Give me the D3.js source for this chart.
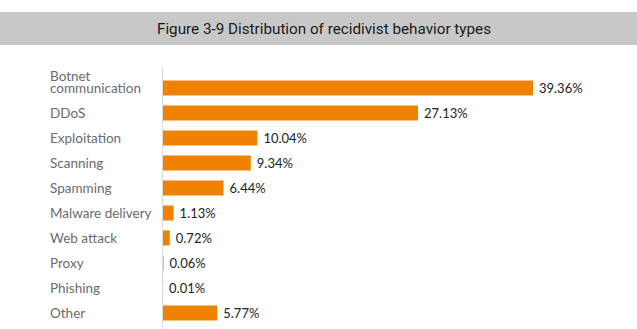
<!DOCTYPE html>
<html>
<head>
<meta charset="utf-8">
<script src="https://cdn.jsdelivr.net/npm/d3@7"></script>
<style>
  body { margin: 0; background: #fff; }
  svg { display: block; }
</style>
</head>
<body>
<div id="chart"></div>
<script>
// chart values
var categories = ["Botnet communication", "DDoS", "Exploitation", "Scanning", "Spamming",
  "Malware delivery", "Web attack", "Proxy", "Phishing", "Other"];
var shares = [39.36, 27.13, 10.04, 9.34, 6.44, 1.13, 0.72, 0.06, 0.01, 5.77];
var titleText = "Figure 3-9 Distribution of recidivist behavior types";

var width = 637, height = 329;
var x0 = 163;

var svg = d3.select("#chart").append("svg")
  .attr("width", width)
  .attr("height", height);

// title band
svg.append("rect")
  .attr("x", 0).attr("y", 12)
  .attr("width", width).attr("height", 33)
  .attr("fill", "#c8c8c8");

svg.append("text")
  .attr("x", 324).attr("y", 34)
  .attr("text-anchor", "middle")
  .attr("textLength", 334)
  .attr("lengthAdjust", "spacingAndGlyphs")
  .style("font-family", "Roboto, sans-serif")
  .style("font-size", "15px")
  .style("fill", "#1a1a1a")
  .text(titleText);

var x = d3.scaleLinear().domain([0, 40]).range([x0, x0 + 376]);

var y = d3.scaleBand()
  .domain(categories)
  .range([75.5, 325.5])
  .paddingInner(0.4)
  .paddingOuter(0.2);

// axis line
svg.append("line")
  .attr("x1", x0 - 0.5).attr("x2", x0 - 0.5)
  .attr("y1", 67).attr("y2", height)
  .attr("stroke", "#dcdcdc")
  .attr("stroke-width", 1);

// bars
svg.append("g")
  .selectAll("rect")
  .data(categories)
  .enter().append("rect")
  .attr("x", x0)
  .attr("y", function (d) { return y(d); })
  .attr("width", function (d, i) { return x(shares[i]) - x0; })
  .attr("height", y.bandwidth())
  .attr("fill", "#ef8200");

// value labels
svg.append("g")
  .selectAll("text")
  .data(categories)
  .enter().append("text")
  .attr("x", function (d, i) { return x(shares[i]) + 6; })
  .attr("y", function (d) { return y(d) + y.bandwidth() / 2; })
  .attr("dy", "0.35em")
  .style("font-family", "Lato, sans-serif")
  .style("font-size", "13px")
  .style("fill", "#222")
  .text(function (d, i) { return shares[i].toFixed(2) + "%"; });

// category labels (first one wraps onto two lines)
var labels = svg.append("g")
  .selectAll("text")
  .data(categories)
  .enter().append("text")
  .attr("x", 50)
  .attr("y", function (d) { return y(d) + y.bandwidth() / 2; })
  .attr("dy", "0.35em")
  .style("font-family", "Lato, sans-serif")
  .style("font-size", "13.5px")
  .style("fill", "#6b6b6b");

labels.each(function (d) {
  var t = d3.select(this);
  if (d === "Botnet communication") {
    t.append("tspan").attr("x", 50).attr("dy", "-0.55em").text("Botnet");
    t.append("tspan").attr("x", 50).attr("dy", "0.9em").text("communication");
  } else {
    t.text(d);
  }
});
</script>
</body>
</html>
